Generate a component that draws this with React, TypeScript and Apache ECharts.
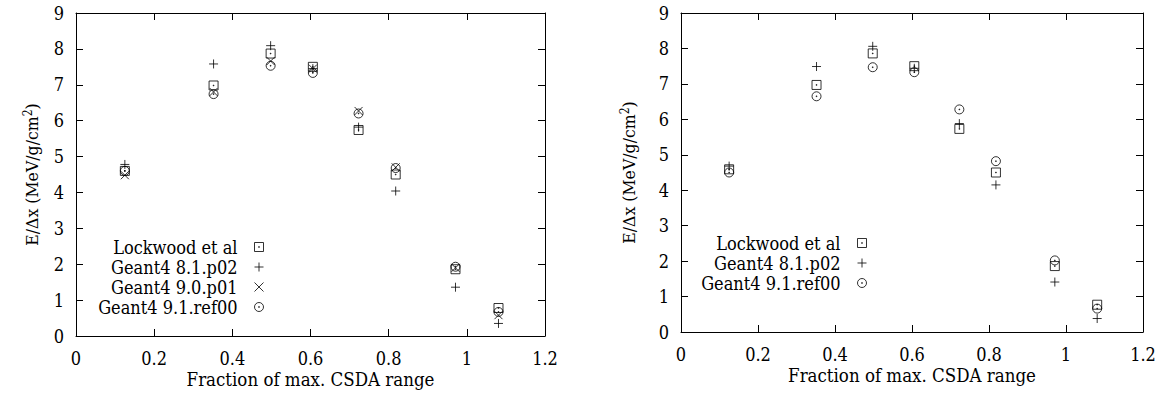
import React, { useEffect, useRef } from "react";
import * as echarts from "echarts";

const xFraction = [0.125, 0.352, 0.498, 0.606, 0.723, 0.818, 0.971, 1.081];

const leftLockwood = [4.6, 6.98, 7.87, 7.5, 5.74, 4.5, 1.86, 0.78];
const leftG4_81 = [4.78, 7.58, 8.09, 7.45, 5.82, 4.04, 1.36, 0.35];
const leftG4_90 = [4.48, 6.8, 7.66, 7.45, 6.27, 4.7, 1.9, 0.58];
const leftG4_91 = [4.6, 6.74, 7.53, 7.33, 6.2, 4.68, 1.93, 0.67];

const rightLockwood = [4.59, 6.97, 7.86, 7.5, 5.73, 4.5, 1.86, 0.77];
const rightG4_81 = [4.68, 7.49, 8.06, 7.44, 5.88, 4.15, 1.41, 0.38];
const rightG4_91 = [4.5, 6.65, 7.47, 7.33, 6.28, 4.82, 2.02, 0.66];

const xTicks = { min: 0, max: 1.2, interval: 0.2 };
const yTicks = { min: 0, max: 9, interval: 1 };

const NAME_LOCK = "Lockwood et al";
const NAME_81 = "Geant4 8.1.p02";
const NAME_90 = "Geant4 9.0.p01";
const NAME_91 = "Geant4 9.1.ref00";

const FONT = "DejaVu Serif Condensed";
const FS = 18;

const SYM_SQUARE = "path://M0,0H10V10H0Z M4.6,4.6H5.4V5.4H4.6Z";
const SYM_PLUS = "path://M5,0V10M0,5H10";
const SYM_CROSS = "path://M0,0L10,10M10,0L0,10";
const SYM_CIRCLE =
  "path://M10,5A5,5,0,1,1,0,5A5,5,0,1,1,10,5Z M4.6,4.6H5.4V5.4H4.6Z";

const zip = (xs: number[], ys: number[]) => xs.map((x, i) => [x, ys[i]]);

function scatter(name: string, symbol: string, size: number, ys: number[], axisIdx: number) {
  return {
    type: "scatter",
    name,
    symbol,
    symbolSize: size,
    xAxisIndex: axisIdx,
    yAxisIndex: axisIdx,
    data: zip(xFraction, ys),
    itemStyle: { color: "transparent", borderColor: "#000", borderWidth: 1 },
    emphasis: { disabled: true },
  };
}

const axisLine = { show: true, onZero: false, lineStyle: { color: "#000", width: 1 } };
const axisTick = { show: true, inside: true, length: 7, lineStyle: { color: "#000" } };

function mainX(gridIndex: number) {
  return {
    type: "value",
    gridIndex,
    ...xTicks,
    position: "bottom",
    name: "Fraction of max. CSDA range",
    nameLocation: "middle",
    nameGap: 34,
    nameMoveOverlap: false,
    nameTextStyle: { fontFamily: FONT, fontSize: 18.5, color: "#000" },
    axisLine,
    axisTick,
    axisLabel: {
      fontFamily: FONT,
      fontSize: FS,
      color: "#000",
      margin: 13,
      formatter: (v: number) => String(Math.round(v * 10) / 10),
    },
    splitLine: { show: false },
  };
}

function mirrorX(gridIndex: number) {
  return {
    type: "value",
    gridIndex,
    ...xTicks,
    position: "top",
    axisLine,
    axisTick,
    axisLabel: { show: false },
    splitLine: { show: false },
  };
}

function mainY(gridIndex: number, nameGap: number) {
  return {
    type: "value",
    gridIndex,
    ...yTicks,
    position: "left",
    name: "{a|E/Δx (MeV/g/cm}{s|2}{a|)}",
    nameLocation: "middle",
    nameGap,
    nameRotate: 90,
    nameMoveOverlap: false,
    nameTextStyle: {
      fontFamily: FONT,
      fontSize: 17.5,
      color: "#000",
      rich: {
        a: { fontFamily: FONT, fontSize: 17.5, color: "#000" },
        s: { fontFamily: FONT, fontSize: 12, color: "#000", verticalAlign: "top", padding: [0, 0, 8, 0] },
      },
    },
    axisLine,
    axisTick,
    axisLabel: { fontFamily: FONT, fontSize: FS, color: "#000", margin: 12 },
    splitLine: { show: false },
  };
}

function mirrorY(gridIndex: number) {
  return {
    type: "value",
    gridIndex,
    ...yTicks,
    position: "right",
    axisLine,
    axisTick,
    axisLabel: { show: false },
    splitLine: { show: false },
  };
}

function legend(names: string[], right: number, top: number) {
  return {
    show: true,
    data: names,
    orient: "vertical",
    align: "right",
    right,
    top,
    padding: 0,
    itemGap: 0,
    itemWidth: 9,
    itemHeight: 9,
    selectedMode: false,
    itemStyle: { color: "transparent", borderColor: "#000", borderWidth: 1 },
    textStyle: {
      fontFamily: FONT,
      fontSize: FS,
      color: "#000",
      lineHeight: 20,
      padding: [0, 12, 0, 0],
    },
  };
}

export default function App() {
  const ref = useRef<HTMLDivElement>(null);

  useEffect(() => {
    if (!ref.current) return;
    const chart = echarts.init(ref.current, undefined, { renderer: "svg" });
    const option: any = {
      animation: false,
      backgroundColor: "#fff",
      textStyle: { fontFamily: FONT },
      grid: [
        { left: 76, top: 13, width: 469, height: 323, containLabel: false },
        { left: 681, top: 13, width: 462, height: 319, containLabel: false },
      ],
      xAxis: [mainX(0), mirrorX(0), mainX(1), mirrorX(1)],
      yAxis: [mainY(0, 34), mirrorY(0), mainY(1, 42), mirrorY(1)],
      legend: [
        legend([NAME_LOCK, NAME_81, NAME_90, NAME_91], 901, 237),
        legend([NAME_LOCK, NAME_81, NAME_91], 298, 233),
      ],
      series: [
        scatter(NAME_LOCK, SYM_SQUARE, 9, leftLockwood, 0),
        scatter(NAME_81, SYM_PLUS, 9, leftG4_81, 0),
        scatter(NAME_90, SYM_CROSS, 8, leftG4_90, 0),
        scatter(NAME_91, SYM_CIRCLE, 9, leftG4_91, 0),
        scatter(NAME_LOCK, SYM_SQUARE, 9, rightLockwood, 2),
        scatter(NAME_81, SYM_PLUS, 9, rightG4_81, 2),
        scatter(NAME_91, SYM_CIRCLE, 9, rightG4_91, 2),
      ],
    };
    chart.setOption(option);
    return () => chart.dispose();
  }, []);

  return (
    <div
      ref={ref}
      style={{ position: "absolute", left: 0, top: 0, width: 1165, height: 396, background: "#fff" }}
    />
  );
}
